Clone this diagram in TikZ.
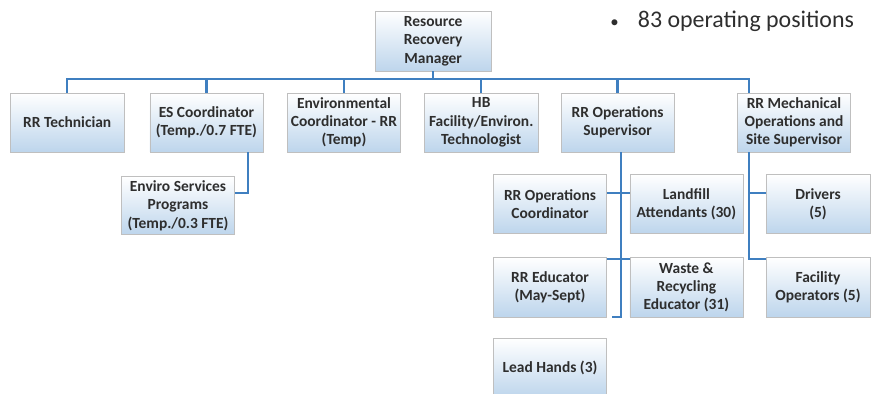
\documentclass[tikz,border=0pt]{standalone}
\usepackage{fontspec}
\setmainfont{Carlito}
\usetikzlibrary{positioning, calc}
\definecolor{boxblue}{HTML}{BDD5EC}
\definecolor{linkblue}{HTML}{3F7FC0}
\definecolor{txtgray}{HTML}{2E2E2E}
\tikzset{
    rolebox/.style={
        draw=black!25, line width=0.4pt,
        top color=white, bottom color=boxblue,
        minimum width=2.83cm, minimum height=1.48cm,
        inner sep=1pt, align=center, text=txtgray,
        font=\bfseries\fontsize{11}{13}\selectfont
    },
    link/.style={draw=linkblue, line width=1.7pt}
}
\begin{document}
\begin{tikzpicture}
    \useasboundingbox (0,0) rectangle (21.8,-9.85);
    \def \rowA {-3.06}
    \def \rowB {-5.1}
    \def \rowC {-7.18}
    % top
    \node[rolebox, minimum width=2.9cm, minimum height=1.5cm] (mgr) at (10.83,-1.03) {Resource\\Recovery\\Manager};
    \node[anchor=base west, inner sep=0pt, text=txtgray, font=\fontsize{17}{19}\selectfont] (note) at (15.25,-0.68) {{\fontsize{12}{12}\selectfont\textbullet}\hspace{0.48cm}83 operating positions};
    % first row
    \node[rolebox] (tech) at (1.68,\rowA) {RR Technician};
    \node[rolebox] (escoord) at (5.16,\rowA) {ES Coordinator\\(Temp./0.7 FTE)};
    \node[rolebox] (envcoord) at (8.6,\rowA) {Environmental\\Coordinator - RR\\(Temp)};
    \node[rolebox] (hb) at (12.03,\rowA) {HB\\Facility/Environ.\\Technologist};
    \node[rolebox] (opssup) at (15.44,\rowA) {RR Operations\\Supervisor};
    \node[rolebox] (mech) at (19.85,\rowA) {RR Mechanical\\Operations and\\Site Supervisor};
    % lower rows
    \node[rolebox, minimum height=1.45cm] (progs) at (4.45,-5.14) {Enviro Services\\Programs\\(Temp./0.3 FTE)};
    \node[rolebox] (opcoord) at (13.75,\rowB) {RR Operations\\Coordinator};
    \node[rolebox] (landfill) at (17.16,\rowB) {Landfill\\Attendants (30)};
    \node[rolebox, minimum width=2.6cm] (drivers) at (20.45,\rowB) {Drivers\\(5)};
    \node[rolebox] (educator) at (13.75,\rowC) {RR Educator\\(May-Sept)};
    \node[rolebox] (waste) at (17.16,\rowC) {Waste \&\\Recycling\\Educator (31)};
    \node[rolebox, minimum width=2.6cm] (facility) at (20.45,\rowC) {Facility\\Operators (5)};
    \node[rolebox] (lead) at (13.75,-9.2) {Lead Hands (3)};
    % connectors
    \coordinate (bus) at (0,-1.98);
    \draw[link] (tech.north) -- (tech.north |- bus) -- ([xshift=-1.12cm]mech.north |- bus) -- ([xshift=-1.12cm]mech.north);
    \draw[link] (mgr.south) -- (mgr.south |- bus);
    \foreach \n in {escoord, envcoord, hb, opssup}
        \draw[link] (\n.north) -- (\n.north |- bus);
    \draw[link] ([xshift=1.04cm]escoord.south) |- ([yshift=0.31cm]progs.east);
    \coordinate (opsend) at (15.53,-7.93);
    \coordinate (opstick) at (15.3,-7.93);
    \draw[link] ([xshift=0.09cm]opssup.south) -- (opsend) -- (opstick);
    \draw[link] ([yshift=0.27cm]opcoord.east) -- ([yshift=0.27cm]landfill.west);
    \draw[link] ([yshift=0.7cm]educator.east) -- ([yshift=0.7cm]waste.west);
    \draw[link] ([xshift=-1.12cm]mech.south) |- ([yshift=0.7cm]facility.west);
    \draw[link] ([xshift=-1.12cm]mech.south |- drivers.west) ++(0,0.27) -- ([yshift=0.27cm]drivers.west);
\end{tikzpicture}
\end{document}
